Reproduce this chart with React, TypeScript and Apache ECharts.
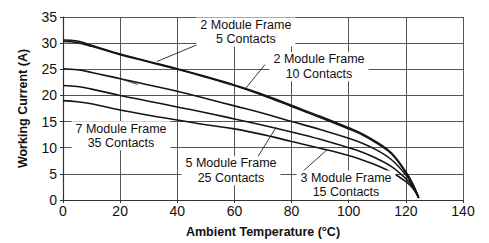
import React, { useEffect, useRef } from "react";
import * as echarts from "echarts";

const temps = [0, 5, 10, 20, 30, 40, 50, 60, 70, 80, 90, 100, 105, 110, 115, 120, 122.5, 124.5];
const frame2c5 = [30.6, 30.4, 29.6, 27.9, 26.5, 25.1, 23.6, 22.0, 20.2, 18.1, 16.0, 13.8, 12.6, 11.0, 9.0, 5.4, 3.0, 0.4];
const frame2c10 = [30.3, 30.1, 29.4, 27.8, 26.4, 25.0, 23.5, 21.9, 20.0, 17.9, 15.8, 13.6, 12.4, 10.8, 8.8, 5.2, 2.9, 0.4];
const frame7c35 = [25.1, 24.9, 24.4, 23.2, 22.0, 20.8, 19.4, 18.0, 16.6, 15.0, 13.5, 11.8, 10.8, 9.5, 7.7, 4.8, 2.8, 0.4];
const frame5c25 = [21.9, 21.7, 21.2, 20.0, 18.9, 17.8, 16.7, 15.5, 14.3, 13.0, 11.6, 10.0, 9.1, 7.9, 6.4, 4.1, 2.5, 0.4];
const frame3c15 = [19.0, 18.8, 18.4, 17.2, 16.2, 15.3, 14.4, 13.6, 12.5, 11.2, 9.9, 8.5, 7.6, 6.6, 5.3, 3.5, 2.2, 0.4];

const seriesNames = [
  "2 Module Frame 5 Contacts",
  "2 Module Frame 10 Contacts",
  "7 Module Frame 35 Contacts",
  "5 Module Frame 25 Contacts",
  "3 Module Frame 15 Contacts",
];
const seriesValues = [frame2c5, frame2c10, frame7c35, frame5c25, frame3c15];

// annotation labels: text, label centre, leader start, leader end (all in data coords)
const labelTexts = [
  "2 Module Frame\n5 Contacts",
  "2 Module Frame\n10 Contacts",
  "7 Module Frame\n35 Contacts",
  "5 Module Frame\n25 Contacts",
  "3 Module Frame\n15 Contacts",
];
const labelCenters = [
  [64.0, 32.15],
  [89.6, 25.5],
  [20.3, 12.27],
  [58.8, 5.6],
  [99.05, 2.85],
];
const leaderFrom = [
  [51.8, 30.8],
  [70.7, 25.9],
  [26.2, 22.1],
  [67.2, 7.4],
  [84.0, 5.5],
];
const leaderTo = [
  [32.9, 26.5],
  [63.7, 21.2],
  [18.9, 23.4],
  [74.6, 13.9],
  [92.4, 9.6],
];

const xTicks = { min: 0, max: 140, interval: 20 };
const yTicks = { min: 0, max: 35, interval: 5 };

const FONT = "'Liberation Sans', Arial, sans-serif";

export default function App() {
  const ref = useRef<HTMLDivElement>(null);
  useEffect(() => {
    if (!ref.current) return;
    const chart = echarts.init(ref.current, undefined, { renderer: "svg" });
    chart.setOption({
      animation: false,
      backgroundColor: "#ffffff",
      grid: { left: 63, right: 26, top: 17, bottom: 42, containLabel: false },
      xAxis: {
        type: "value",
        ...xTicks,
        name: "Ambient Temperature (°C)",
        nameLocation: "middle",
        nameGap: 25,
        nameTextStyle: { fontFamily: FONT, fontSize: 12.5, fontWeight: "bold", color: "#111" },
        axisLine: { show: true, lineStyle: { color: "#333", width: 1.2 } },
        axisTick: { show: true, length: 3, lineStyle: { color: "#333" } },
        axisLabel: { fontFamily: FONT, fontSize: 14, color: "#111", margin: 4 },
        splitLine: { show: true, lineStyle: { color: "#555", width: 1 } },
      },
      yAxis: {
        type: "value",
        ...yTicks,
        name: "Working Current (A)",
        nameLocation: "middle",
        nameRotate: 90,
        nameGap: 34,
        nameTextStyle: { fontFamily: FONT, fontSize: 12.5, fontWeight: "bold", color: "#111" },
        axisLine: { show: true, lineStyle: { color: "#333", width: 1.2 } },
        axisTick: { show: true, length: 3, lineStyle: { color: "#333" } },
        axisLabel: { fontFamily: FONT, fontSize: 14, color: "#111", margin: 6 },
        splitLine: { show: true, lineStyle: { color: "#555", width: 1 } },
      },
      series: seriesValues.map((vals, i) => ({
        name: seriesNames[i],
        type: "line",
        data: temps.map((t, j) => [t, vals[j]]),
        symbol: "none",
        smooth: 0.4,
        lineStyle: { color: "#151515", width: 1.6 },
        z: 3,
      })),
    });

    const px = (p: number[]) => chart.convertToPixel({ gridIndex: 0 }, p) as number[];
    const graphics: any[] = [];
    labelTexts.forEach((_txt, i) => {
      const a = px(leaderFrom[i]);
      const b = px(leaderTo[i]);
      graphics.push({
        type: "line",
        shape: { x1: a[0], y1: a[1], x2: b[0], y2: b[1] },
        style: { stroke: "#222", lineWidth: 0.9 },
        z: 4,
      });
    });
    labelTexts.forEach((txt, i) => {
      const c = px(labelCenters[i]);
      graphics.push({
        type: "text",
        x: c[0],
        y: c[1],
        z: 5,
        style: {
          text: txt,
          fontFamily: FONT,
          fontSize: 12.5,
          fill: "#111",
          align: "center",
          verticalAlign: "middle",
          lineHeight: 14.5,
          backgroundColor: "#ffffff",
          padding: [0, 4],
        },
      });
    });
    chart.setOption({ graphic: graphics });

    return () => chart.dispose();
  }, []);
  return (
    <div
      ref={ref}
      style={{ position: "fixed", left: 0, top: 0, width: 489, height: 243, background: "#fff" }}
    />
  );
}
